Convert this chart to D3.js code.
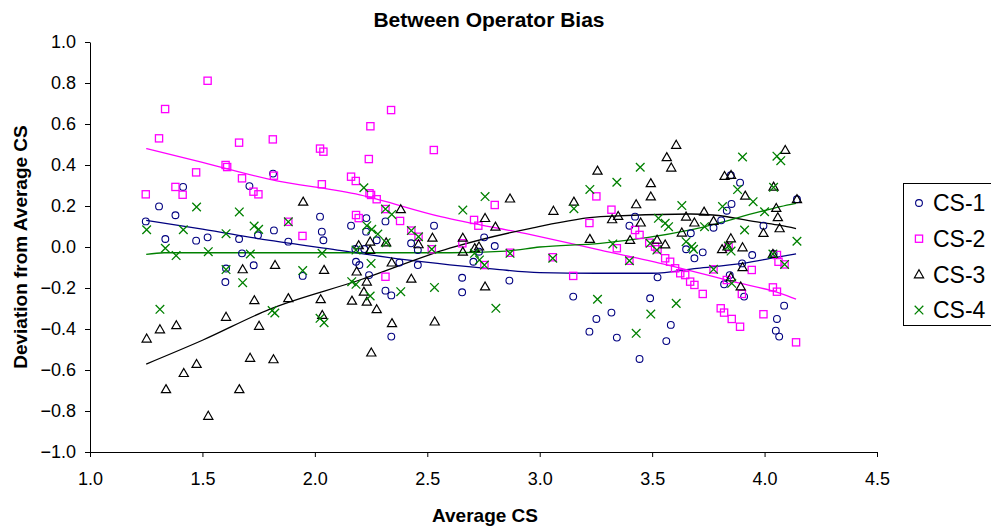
<!DOCTYPE html>
<html><head><meta charset="utf-8">
<script src="https://cdn.jsdelivr.net/npm/d3@7"></script>
<style>
html,body{margin:0;padding:0;background:#fff;}
svg{display:block;font-family:"Liberation Sans",Arial,sans-serif;}
</style></head>
<body>
<svg id="chart" width="991" height="527"></svg>
<script>
const seriesNames = ["CS-1","CS-2","CS-3","CS-4"];
const xTicks = [1.0,1.5,2.0,2.5,3.0,3.5,4.0,4.5];
const yTicks = [-1.0,-0.8,-0.6,-0.4,-0.2,0.0,0.2,0.4,0.6,0.8,1.0];

const cs1 = [
[1.248,0.125],[1.307,0.198],[1.335,0.039],[1.380,0.155],[1.414,0.293],[1.472,0.031],[1.523,0.047],[1.605,-0.105],[1.602,-0.171],[1.663,0.039],[1.676,-0.031],[1.709,0.297],[1.728,-0.089],[1.747,0.057],[1.814,0.358],[1.818,0.081],
[1.882,0.026],[1.946,-0.141],[2.023,0.148],[2.031,0.075],[2.038,0.033],[2.161,0.104],[2.18,-0.01],[2.22,-0.01],[2.183,-0.072],[2.198,-0.088],[2.228,0.075],[2.229,0.141],[2.241,-0.137],[2.275,0.033],[2.314,0.125],[2.314,-0.213],[2.340,-0.236],[2.340,-0.437],[2.376,-0.076],[2.428,0.018],[2.458,-0.015],[2.458,-0.088],[2.530,0.104],
[2.655,-0.150],[2.655,-0.221],[2.705,-0.072],[2.730,-0.023],[2.753,0.047],[2.800,0.005],[2.865,-0.164],[3.149,-0.242],[3.221,-0.413],[3.252,-0.351],[3.319,-0.320],[3.343,-0.442],
[3.399,0.104],[3.424,0.148],[3.444,-0.546],[3.491,-0.250],[3.524,-0.148],[3.563,-0.459],[3.583,-0.380],[3.651,-0.011],[3.672,0.067],[3.688,-0.055],[3.725,-0.026],[3.773,0.094],[3.807,0.130],[3.820,-0.182],[3.832,0.177],[3.845,-0.137],[3.85,0.35],[3.853,0.210],[3.891,0.314],[3.90,-0.08],[3.909,-0.242],[3.945,-0.039],[3.995,0.104],[4.040,-0.033],[4.050,-0.408],[4.055,-0.351],[4.065,-0.437],[4.087,-0.286],[4.144,0.233]
];
const cs2 = [
[1.248,0.257],[1.307,0.530],[1.334,0.673],[1.380,0.293],[1.412,0.255],[1.472,0.364],[1.523,0.811],[1.603,0.400],[1.610,0.390],[1.663,0.509],[1.676,0.335],[1.727,0.270],[1.749,0.257],[1.813,0.525],[1.818,0.348],
[1.882,0.123],[1.945,0.054],[2.023,0.480],[2.031,0.306],[2.038,0.465],[2.161,0.343],[2.182,0.322],[2.183,0.156],[2.195,0.141],[2.240,0.429],[2.243,0.262],[2.247,0.589],[2.250,0.254],[2.275,0.233],[2.314,0.185],[2.314,-0.145],[2.339,0.668],[2.379,0.127],[2.429,0.080],[2.461,0.050],[2.520,-0.011],[2.529,0.473],
[2.656,0.018],[2.708,0.132],[2.727,0.104],[2.754,-0.088],[2.800,0.205],[2.868,-0.028],[3.058,-0.050],[3.149,-0.141],[3.221,0.117],[3.252,0.247],[3.319,0.182],[3.343,-0.006],
[3.399,-0.067],[3.424,0.083],[3.444,0.059],[3.487,0.021],[3.513,0.002],[3.524,-0.011],[3.558,-0.055],[3.580,-0.072],[3.602,-0.104],[3.625,-0.128],[3.647,-0.137],[3.669,-0.169],[3.688,-0.185],[3.725,-0.229],[3.773,-0.109],[3.805,-0.299],[3.820,-0.320],[3.832,-0.161],[3.84,0.0],[3.854,-0.351],[3.891,-0.389],[3.899,-0.229],[3.943,-0.112],[3.995,-0.328],[4.037,-0.197],[4.055,-0.218],[4.055,-0.039],[4.062,-0.072],[4.089,-0.085],[4.140,-0.465]
];
const cs3 = [
[1.252,-0.447],[1.311,-0.402],[1.338,-0.694],[1.384,-0.382],[1.417,-0.615],[1.474,-0.571],[1.526,-0.824],[1.605,-0.341],[1.664,-0.694],[1.679,-0.109],[1.712,-0.541],[1.731,-0.260],[1.752,-0.385],[1.816,-0.548],[1.823,-0.088],
[1.882,-0.250],[1.948,0.221],[2.026,-0.255],[2.033,-0.332],[2.041,-0.112],[2.165,-0.262],[2.186,-0.120],[2.195,0.008],[2.218,-0.218],[2.231,-0.169],[2.231,-0.267],[2.246,0.026],[2.246,-0.015],[2.251,-0.515],[2.275,-0.304],[2.317,0.022],[2.342,-0.076],[2.343,-0.372],[2.382,0.184],[2.429,-0.155],[2.461,0.013],[2.523,0.045],[2.533,-0.364],
[2.658,0.045],[2.658,-0.023],[2.711,-0.006],[2.730,0.002],[2.757,0.141],[2.757,-0.193],[2.803,0.099],[2.868,0.236],[3.061,0.176],[3.152,0.221],[3.223,0.039],[3.257,0.372],[3.322,0.135],[3.349,0.151],
[3.402,0.034],[3.429,0.208],[3.449,0.119],[3.494,0.311],[3.494,0.246],[3.522,0.035],[3.558,0.012],[3.565,0.438],[3.585,0.387],[3.607,0.498],[3.632,0.070],[3.651,0.148],[3.688,0.119],[3.731,0.172],[3.773,0.127],[3.811,-0.011],[3.822,0.346],[3.835,0.002],[3.850,0.042],[3.850,-0.148],[3.851,0.351],[3.894,-0.193],[3.902,-0.002],[3.902,-0.099],[3.914,0.250],[3.995,0.068],[4.037,-0.034],[4.040,0.294],[4.052,0.190],[4.059,0.145],[4.067,0.091],[4.092,0.473],[4.144,0.233]
];
const cs4 = [
[1.252,0.084],[1.311,-0.304],[1.335,-0.006],[1.383,-0.042],[1.415,0.084],[1.474,0.195],[1.526,-0.023],[1.605,0.065],[1.605,-0.11],[1.664,0.171],[1.679,-0.174],[1.713,-0.034],[1.730,0.102],[1.750,0.086],[1.81,-0.31],[1.822,-0.322],
[1.882,0.123],[1.946,-0.115],[2.023,-0.348],[2.032,-0.031],[2.041,-0.369],[2.164,-0.169],[2.183,-0.015],[2.183,-0.182],[2.218,0.289],[2.231,0.104],[2.246,-0.239],[2.250,-0.080],[2.253,0.086],[2.280,0.063],[2.314,0.185],[2.317,0.021],[2.342,0.159],[2.382,-0.218],[2.429,0.080],[2.461,0.050],[2.520,-0.011],[2.532,-0.197],
[2.658,0.180],[2.710,-0.031],[2.732,-0.063],[2.754,-0.088],[2.757,0.246],[2.805,-0.299],[2.868,-0.031],[3.058,-0.055],[3.152,0.187],[3.223,0.281],[3.257,-0.255],[3.325,0.015],[3.343,0.316],
[3.399,-0.067],[3.429,-0.421],[3.447,0.389],[3.491,0.018],[3.494,-0.327],[3.521,-0.015],[3.528,0.140],[3.558,0.116],[3.573,0.099],[3.607,-0.275],[3.632,0.202],[3.651,0.026],[3.676,0.002],[3.684,-0.011],[3.733,0.099],[3.773,-0.109],[3.813,0.197],[3.839,0.005],[3.851,-0.020],[3.854,-0.177],[3.88,0.28],[3.902,0.439],[3.911,0.083],[3.949,0.221],[4.000,0.172],[4.037,-0.034],[4.040,0.291],[4.055,0.443],[4.072,0.421],[4.089,-0.085],[4.144,0.028]
];

// trend lines
const trend1 = [[1.25,0.13],[1.5,0.087],[1.8,0.032],[2.1,-0.015],[2.4,-0.062],[2.6,-0.087],[2.8,-0.108],[3.0,-0.125],[3.25,-0.128],[3.5,-0.128],[3.7,-0.104],[3.9,-0.08],[4.07,-0.047],[4.14,-0.034]];
const trend2 = [[1.25,0.48],[1.5,0.413],[1.8,0.33],[2.2,0.254],[2.56,0.148],[2.96,0.06],[3.27,-0.015],[3.57,-0.088],[3.86,-0.169],[4.07,-0.226],[4.14,-0.254]];
const trend3 = [[1.25,-0.571],[1.5,-0.455],[1.8,-0.303],[2.2,-0.161],[2.6,-0.006],[2.96,0.091],[3.27,0.148],[3.67,0.161],[3.77,0.156],[3.98,0.12],[4.07,0.105],[4.14,0.09]];
const trend4 = [[1.25,-0.036],[1.33,-0.028],[2.0,-0.028],[2.6,-0.028],[2.85,-0.02],[3.0,0.0],[3.27,0.018],[3.67,0.083],[3.98,0.172],[4.07,0.197],[4.14,0.213]];

const colors = ["#000080","#FF00FF","#000000","#008000"];

const svg = d3.select("#chart");
const x = d3.scaleLinear().domain([1,4.5]).range([90,877]);
const y = d3.scaleLinear().domain([-1,1]).range([452,42]);

// axes
const yAxis = d3.axisLeft(y).tickValues(yTicks).tickFormat(d3.format(".1f")).tickSize(5).tickSizeOuter(0).tickPadding(9);
const xAxis = d3.axisBottom(x).tickValues(xTicks).tickFormat(d3.format(".1f")).tickSize(5).tickSizeOuter(0).tickPadding(15);
const gy = svg.append("g").attr("transform","translate(90,0)").call(yAxis);
const gx = svg.append("g").attr("transform","translate(0,452)").call(xAxis);
[gx,gy].forEach(g=>{
  g.selectAll("text").attr("font-size","18px").attr("fill","#000").attr("font-family",'"Liberation Sans",Arial,sans-serif');
  g.selectAll("line,path").attr("stroke","#000").attr("stroke-width",1);
});

// trend lines
const line = d3.line().x(d=>x(d[0])).y(d=>y(d[1])).curve(d3.curveMonotoneX);
[trend1,trend2,trend3,trend4].forEach((t,i)=>{
  svg.append("path").attr("d",line(t)).attr("fill","none").attr("stroke",colors[i]).attr("stroke-width",1.3);
});

// markers
function drawMarker(g, kind, cx, cy, col){
  if(kind===0){
    g.append("circle").attr("cx",cx).attr("cy",cy).attr("r",3.4).attr("fill","none").attr("stroke",col).attr("stroke-width",1.1);
  } else if(kind===1){
    g.append("rect").attr("x",cx-3.6).attr("y",cy-3.6).attr("width",7.2).attr("height",7.2).attr("fill","none").attr("stroke",col).attr("stroke-width",1.3);
  } else if(kind===2){
    g.append("path").attr("d",`M${cx},${cy-4.6}L${cx+4.6},${cy+3.4}L${cx-4.6},${cy+3.4}Z`).attr("fill","none").attr("stroke",col).attr("stroke-width",1.2);
  } else {
    g.append("path").attr("d",`M${cx-4.3},${cy-4.3}L${cx+4.3},${cy+4.3}M${cx+4.3},${cy-4.3}L${cx-4.3},${cy+4.3}`).attr("fill","none").attr("stroke",col).attr("stroke-width",1.3);
  }
}
const seriesData = [cs1,cs2,cs3,cs4];
seriesData.forEach((s,i)=>{
  const g = svg.append("g");
  s.forEach(d=>drawMarker(g,i,x(d[0]),y(d[1]),colors[i]));
});

// titles
svg.append("text").attr("x",489).attr("y",27).attr("text-anchor","middle").attr("font-weight","bold").attr("font-size","21px").text("Between Operator Bias");
svg.append("text").attr("x",485).attr("y",522).attr("text-anchor","middle").attr("font-weight","bold").attr("font-size","19px").text("Average CS");
svg.append("text").attr("transform","translate(27,247) rotate(-90)").attr("text-anchor","middle").attr("font-weight","bold").attr("font-size","19px").text("Deviation from Average CS");

// legend
const lg = svg.append("g");
lg.append("rect").attr("x",903.5).attr("y",183.5).attr("width",100).attr("height",142).attr("fill","#fff").attr("stroke","#000").attr("stroke-width",1);
seriesNames.forEach((n,i)=>{
  const cy = 203 + i*35.7;
  drawMarker(lg,i,919,cy,colors[i]);
  lg.append("text").attr("x",933).attr("y",cy+8.3).attr("font-size","23px").text(n);
});
</script>
</body></html>
